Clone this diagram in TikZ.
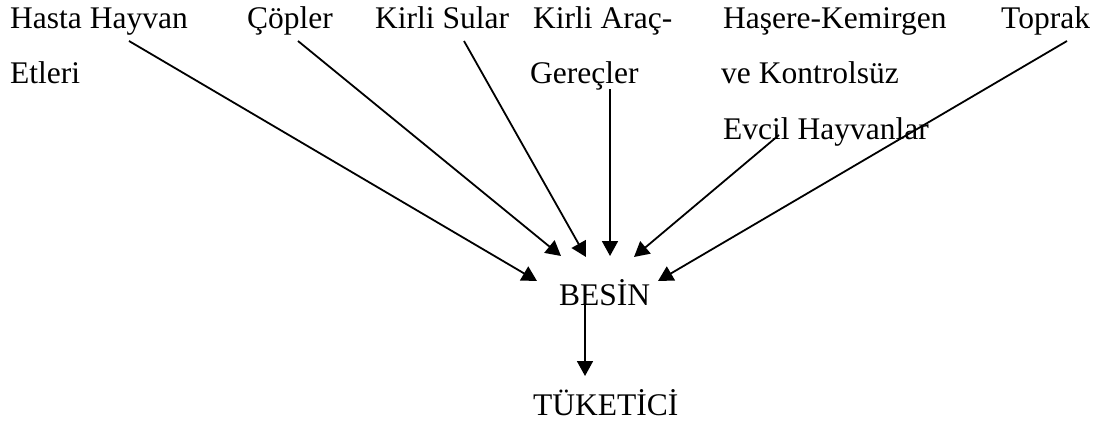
\documentclass[tikz,border=0pt]{standalone}
\usepackage{fontspec}
\setmainfont{Liberation Serif}
\usetikzlibrary{arrows.meta}
\tikzset{
  lbl/.style={anchor=base west, inner sep=0pt, font=\fontsize{31.5}{36}\selectfont},
  flow/.style={line width=1.8pt, -{Triangle[length=15pt,width=16pt]}}
}
\begin{document}
\begin{tikzpicture}[x=1pt,y=-1pt]
  \useasboundingbox (0,0) rectangle (1102,423);
  % sources
  \node[lbl] (hasta)  at (10,28)  {Hasta Hayvan};
  \node[lbl] (etleri) at (10,83)  {Etleri};
  \node[lbl] (copler) at (247,28) {Çöpler};
  \node[lbl] (sular)  at (375,28) {Kirli Sular};
  \node[lbl] (arac)   at (533,28) {Kirli Araç-};
  \node[lbl] (gerec)  at (530,83) {Gereçler};
  \node[lbl] (hasere) at (723,28) {Haşere-Kemirgen};
  \node[lbl] (kontrol) at (721,83) {ve Kontrolsüz};
  \node[lbl] (evcil)  at (723,139) {Evcil Hayvanlar};
  \node[lbl] (toprak) at (1001,28) {Toprak};
  % food and consumer
  \node[lbl] (besin)  at (559,305) {BESİN};
  \node[lbl] (tuketici) at (533,415) {TÜKETİCİ};
  % connector ends
  \coordinate (s1) at (129,41);  \coordinate (e1) at (537,281);
  \coordinate (s2) at (298,41);  \coordinate (e2) at (561,256);
  \coordinate (s3) at (464,41);  \coordinate (e3) at (586,257);
  \coordinate (s4) at (610,89);  \coordinate (e4) at (610,256);
  \coordinate (s5) at (779,135); \coordinate (e5) at (634,257);
  \coordinate (s6) at (1067,41); \coordinate (e6) at (658,281);
  \coordinate (s7) at (585,302); \coordinate (e7) at (585,376);
  \draw[flow] (s1) -- (e1);
  \draw[flow] (s2) -- (e2);
  \draw[flow] (s3) -- (e3);
  \draw[flow] (s4) -- (e4);
  \draw[flow] (s5) -- (e5);
  \draw[flow] (s6) -- (e6);
  \draw[flow] (s7) -- (e7);
\end{tikzpicture}
\end{document}
